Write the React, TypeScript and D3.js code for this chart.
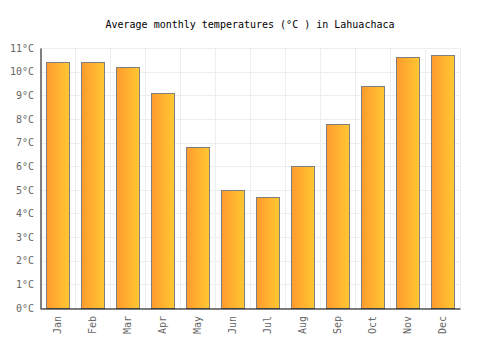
import { useEffect, useRef } from 'react';
import * as d3 from 'd3';

const months = ['Jan', 'Feb', 'Mar', 'Apr', 'May', 'Jun', 'Jul', 'Aug', 'Sep', 'Oct', 'Nov', 'Dec'];
const temps = [10.4, 10.4, 10.2, 9.1, 6.8, 5.0, 4.7, 6.0, 7.8, 9.4, 10.6, 10.7];
const yTicks = [0, 1, 2, 3, 4, 5, 6, 7, 8, 9, 10, 11];

export default function App() {
  const svgRef = useRef<SVGSVGElement>(null);

  useEffect(() => {
    if (!svgRef.current) return;
    const width = 500;
    const height = 350;
    const margin = { top: 48, right: 40, bottom: 42, left: 40 };
    const innerWidth = width - margin.left - margin.right;
    const innerHeight = height - margin.top - margin.bottom;
    const font = '"DejaVu Sans Mono", monospace';

    const svg = d3.select(svgRef.current);
    svg.selectAll('*').remove();
    svg.attr('width', width).attr('height', height);

    const defs = svg.append('defs');
    const grad = defs
      .append('linearGradient')
      .attr('id', 'bar-gradient')
      .attr('x1', '0%')
      .attr('x2', '100%')
      .attr('y1', '0%')
      .attr('y2', '0%');
    grad.append('stop').attr('offset', '0%').attr('stop-color', '#ff9a2e');
    grad.append('stop').attr('offset', '100%').attr('stop-color', '#ffc832');

    svg
      .append('text')
      .attr('x', width / 2)
      .attr('y', 28)
      .attr('text-anchor', 'middle')
      .attr('font-family', font)
      .attr('font-size', 10)
      .attr('fill', '#000')
      .text('Average monthly temperatures (°C ) in Lahuachaca');

    const g = svg.append('g').attr('transform', `translate(${margin.left},${margin.top})`);

    const x = d3.scaleBand().domain(months).range([0, innerWidth]).paddingInner(0.33).paddingOuter(0.165);
    const xGrid = d3.scaleBand().domain(months).range([0, innerWidth]);
    const y = d3.scaleLinear().domain([0, 11]).range([innerHeight, 0]);

    // horizontal grid
    g.selectAll('.hgrid')
      .data(yTicks)
      .enter()
      .append('line')
      .attr('x1', 0)
      .attr('x2', innerWidth)
      .attr('y1', (d) => Math.round(y(d)) + 0.5)
      .attr('y2', (d) => Math.round(y(d)) + 0.5)
      .attr('stroke', '#eeeeee');

    // vertical grid at category boundaries
    g.selectAll('.vgrid')
      .data(months)
      .enter()
      .append('line')
      .attr('x1', (d) => Math.round((xGrid(d) || 0) + xGrid.bandwidth()) + 0.5)
      .attr('x2', (d) => Math.round((xGrid(d) || 0) + xGrid.bandwidth()) + 0.5)
      .attr('y1', 0)
      .attr('y2', innerHeight)
      .attr('stroke', '#eeeeee');

    g.selectAll('.bar')
      .data(temps)
      .enter()
      .append('rect')
      .attr('x', (_, i) => Math.round(x(months[i]) || 0) + 0.5)
      .attr('y', (d) => Math.round(y(d)) + 0.5)
      .attr('width', Math.round(x.bandwidth()))
      .attr('height', (d) => innerHeight - Math.round(y(d)))
      .attr('fill', 'url(#bar-gradient)')
      .attr('stroke', '#7f7f7f')
      .attr('stroke-width', 1);

    const yAxis = g
      .append('g')
      .call(
        d3
          .axisLeft(y)
          .tickValues(yTicks)
          .tickSize(0)
          .tickPadding(6)
          .tickFormat((d) => `${d}°C`)
      );
    yAxis.select('.domain').attr('stroke', '#000').attr('transform', 'translate(0.5,0)');
    yAxis
      .selectAll('text')
      .attr('font-family', font)
      .attr('font-size', 10)
      .attr('fill', '#666');

    const xAxis = g
      .append('g')
      .attr('transform', `translate(0,${innerHeight})`)
      .call(d3.axisBottom(xGrid).tickSize(0).tickPadding(8));
    xAxis.select('.domain').attr('stroke', '#000').attr('transform', 'translate(0,0.5)');
    xAxis
      .selectAll('text')
      .attr('font-family', font)
      .attr('font-size', 10)
      .attr('fill', '#666')
      .attr('transform', 'rotate(-90)')
      .attr('text-anchor', 'end')
      .attr('dx', '-8')
      .attr('dy', '0.35em')
      .attr('x', 0)
      .attr('y', 0);
  }, []);

  return <svg ref={svgRef} style={{ position: 'absolute', left: 0, top: 0, background: '#fff' }} />;
}
